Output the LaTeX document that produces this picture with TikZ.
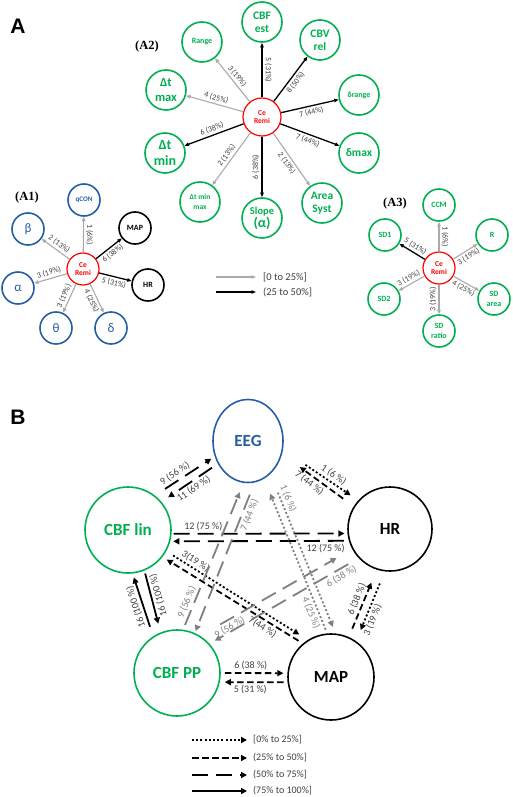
\documentclass[tikz,border=0pt]{standalone}
\usepackage{fontspec}
\setmainfont{Carlito}
\newfontfamily\arialf{Liberation Sans}
\newfontfamily\timesf{Liberation Serif}
\usetikzlibrary{arrows.meta,shapes.geometric}
\definecolor{agreen}{RGB}{0,176,80}
\definecolor{ablue}{RGB}{38,94,165}
\definecolor{lgray}{RGB}{170,170,170}
\definecolor{mgray}{RGB}{128,128,128}
\definecolor{lab}{RGB}{64,64,64}
\newcommand{\fsz}[2]{\fontsize{#1}{#2}\selectfont}
\begin{document}
\begin{tikzpicture}[x=1pt, y=-1pt,
  ce/.style={circle, draw=red, line width=1.2pt, text=red, inner sep=0pt, align=center, font=\bfseries\fsz{7.5}{8.5}},
  gn/.style={circle, draw=agreen, line width=1.6pt, text=agreen, inner sep=0pt, align=center, font=\bfseries\fsz{8}{10}},
  bn/.style={circle, draw=ablue, line width=1.6pt, text=ablue, inner sep=0pt, align=center, font=\bfseries\fsz{8}{10}},
  kn/.style={circle, draw=black, line width=1.6pt, text=black, inner sep=0pt, align=center, font=\bfseries\fsz{8}{10}},
  lo/.style={draw=lgray, line width=1.1pt, -{Triangle[length=4.5pt,width=3.5pt]}},
  hi/.style={draw=black, line width=1.3pt, -{Triangle[length=4.5pt,width=3.5pt]}},
  al/.style={font=\fsz{8}{9}, text=lab, inner sep=2pt},
  big/.style={draw, line width=1.6pt, inner sep=0pt, font=\bfseries\fsz{17}{19}},
  bk/.style={draw=black, line width=1.8pt, -{Triangle[length=6pt,width=6pt]}},
  gr/.style={draw=mgray, line width=1.8pt, -{Triangle[length=6pt,width=6pt]}},
  p25/.style={dash pattern=on 2pt off 2.2pt},
  p50/.style={dash pattern=on 6.5pt off 3.5pt},
  p75/.style={dash pattern=on 16pt off 8pt},
  bl/.style={font=\fsz{10}{12}, text=lab, inner sep=2pt},
  gl/.style={font=\fsz{10}{12}, text=mgray, inner sep=2pt},
  leg/.style={anchor=west, inner sep=0pt, text=lab}
]
\useasboundingbox (0,0) rectangle (512,797);

% panel A
\node[font=\arialf\bfseries\fsz{21}{21}] (pa) at (18,26) {A};
\node[font=\timesf\bfseries\fsz{12.5}{13}] (a2t) at (147,46) {(A2)};
\node[font=\timesf\bfseries\fsz{12.5}{13}] (a1t) at (27,197) {(A1)};
\node[font=\timesf\bfseries\fsz{12.5}{13}] (a3t) at (395,203) {(A3)};

% A2
\node[ce, minimum size=38] (c2) at (262,117) {Ce\\Remi};
\node[gn, minimum size=40, font=\bfseries\fsz{11.5}{13}] (cbf) at (262,22) {CBF\\est};
\node[gn, minimum size=40, font=\bfseries\fsz{11.5}{13}] (cbv) at (320,40) {CBV\\rel};
\node[gn, minimum size=40] (drng) at (359,95) {δrange};
\node[gn, minimum size=40, font=\bfseries\fsz{11.5}{13}] (dmax) at (359,153) {δmax};
\node[gn, minimum size=40, font=\bfseries\fsz{11.5}{13}] (area) at (322,203) {Area\\Syst};
\node[gn, minimum size=40, font=\bfseries\fsz{10.5}{13}] (slp) at (262,218) {Slope\\{\fsz{14}{14}(α)}};
\node[gn, minimum size=40, font=\bfseries\fsz{7.5}{10}] (dtmm) at (200,202) {Δt min\\max};
\node[gn, minimum size=40, font=\bfseries\fsz{14}{16}] (dtmin) at (165,153) {Δt\\min};
\node[gn, minimum size=40, font=\bfseries\fsz{12.5}{15}] (dtmax) at (166,90) {Δt\\max};
\node[gn, minimum size=40] (rng) at (202,42) {Range};
\draw[lo] (c2) -- (rng) node[al, midway, sloped, above] {3 (19\%)};
\draw[hi] (c2) -- (cbf) node[al, midway, rotate=-90, anchor=south] {5 (31\%)};
\draw[hi] (c2) -- (cbv) node[al, midway, sloped, below] {8 (50\%)};
\draw[hi] (c2) -- (drng) node[al, midway, sloped, below] {7 (44\%)};
\draw[hi] (c2) -- (dmax) node[al, midway, sloped, below] {7 (44\%)};
\draw[lo] (c2) -- (area) node[al, midway, sloped, below] {2 (13\%)};
\draw[hi] (c2) -- (slp) node[al, midway, rotate=90, anchor=south] {6 (38\%)};
\draw[lo] (c2) -- (dtmm) node[al, midway, sloped, above] {2 (13\%)};
\draw[hi] (c2) -- (dtmin) node[al, midway, sloped, above] {6 (38\%)};
\draw[lo] (c2) -- (dtmax) node[al, midway, sloped, above] {4 (25\%)};

% A1
\node[ce, minimum size=32] (c1) at (83,269) {Ce\\Remi};
\node[bn, minimum size=32, font=\bfseries\fsz{7}{8}] (qcon) at (84,200) {qCON};
\node[bn, minimum size=32, font=\fsz{13}{13}] (bet) at (28,229) {β};
\node[bn, minimum size=32, font=\fsz{13}{13}] (alp) at (18,288) {α};
\node[bn, minimum size=32, font=\fsz{13}{13}] (the) at (56,328) {θ};
\node[bn, minimum size=32, font=\fsz{13}{13}] (del) at (111,328) {δ};
\node[kn, minimum size=32] (map1) at (135,228) {MAP};
\node[kn, minimum size=32] (hr1) at (148,285) {HR};
\draw[lo] (c1) -- (qcon) node[al, midway, rotate=-90, anchor=south] {1 (6\%)};
\draw[hi] (c1) -- (map1) node[al, midway, sloped, below] {6 (38\%)};
\draw[hi] (c1) -- (hr1) node[al, midway, sloped, below] {5 (31\%)};
\draw[lo] (c1) -- (bet) node[al, midway, sloped, above] {2 (13\%)};
\draw[lo] (c1) -- (alp) node[al, midway, sloped, above] {3 (19\%)};
\draw[lo] (c1) -- (the) node[al, midway, sloped, above] {3 (19\%)};
\draw[lo] (c1) -- (del) node[al, midway, sloped, below] {4 (25\%)};

% A3
\node[ce, minimum size=32] (c3) at (439,268) {Ce\\Remi};
\node[gn, minimum size=32] (ccm) at (439,205) {CCM};
\node[gn, minimum size=32] (sd1) at (385,235) {SD1};
\node[gn, minimum size=32] (rr) at (492,235) {R};
\node[gn, minimum size=32] (sd2) at (384,299) {SD2};
\node[gn, minimum size=32] (sda) at (494,299) {SD\\area};
\node[gn, minimum size=32] (sdr) at (439,331) {SD\\ratio};
\draw[lo] (c3) -- (ccm) node[al, midway, rotate=-90, anchor=south] {1 (6\%)};
\draw[hi] (c3) -- (sd1) node[al, midway, sloped, above] {5 (31\%)};
\draw[lo] (c3) -- (rr) node[al, midway, sloped, below] {3 (19\%)};
\draw[lo] (c3) -- (sd2) node[al, midway, sloped, above] {3 (19\%)};
\draw[lo] (c3) -- (sda) node[al, midway, sloped, below] {4 (25\%)};
\draw[lo] (c3) -- (sdr) node[al, midway, rotate=90, anchor=south] {3 (19\%)};

% legend A
\node[leg, font=\fsz{10.5}{12}] (lg1) at (263,277) {[0 to 25\%]};
\node[leg, font=\fsz{10.5}{12}] (lg2) at (263,292) {(25 to 50\%]};
\coordinate (lg1s) at (216,277);
\coordinate (lg2s) at (216,292);
\draw[lo, shorten >=7pt] (lg1s) -- (lg1.west);
\draw[hi, shorten >=7pt] (lg2s) -- (lg2.west);

% panel B
\node[font=\arialf\bfseries\fsz{21}{21}] (pb) at (18,417) {B};
\node[big, ellipse, draw=ablue, text=ablue, minimum width=70, minimum height=83] (eeg) at (248,441) {EEG};
\node[big, circle, draw=agreen, text=agreen, minimum size=86] (lin) at (128,530) {CBF lin};
\node[big, circle, minimum size=84] (hr) at (390,529) {HR};
\node[big, circle, draw=agreen, text=agreen, minimum size=86] (pp) at (177,673) {CBF PP};
\node[big, circle, minimum size=86] (map) at (331,677) {MAP};

\draw[bk, p75, shorten <=12pt, shorten >=4pt] (lin.52) -- (eeg.205) node[bl, sloped, pos=.4, above] {9 (56 \%)};
\draw[bk, p75, shorten <=7pt, shorten >=8pt] (eeg.217) -- (lin.40) node[bl, sloped, pos=.5, below] {11 (69 \%)};
\draw[bk, p25, shorten <=27pt, shorten >=9pt] (eeg.-14) -- (hr.138) node[bl, sloped, pos=.62, above] {1 (6 \%)};
\draw[bk, p50, shorten <=13pt, shorten >=22pt] (hr.148) -- (eeg.-21) node[bl, sloped, pos=.56, below] {7 (44 \%)};
\draw[bk, p75, shorten <=2pt, shorten >=3pt] (lin.-5) -- (hr.186) node[bl, pos=.18, above] {12 (75 \%)};
\draw[bk, p75, shorten <=5pt, shorten >=3pt] (hr.196) -- (lin.-15) node[bl, pos=.13, below] {12 (75 \%)};
\draw[bk, p25, shorten <=8pt, shorten >=10pt] (lin.-29) -- (map.122) node[bl, sloped, pos=.18, above] {3(19 \%)};
\draw[bk, p50, shorten <=5pt, shorten >=5pt] (map.130) -- (lin.-38) node[bl, sloped, pos=.26, below] {7(44 \%)};
\draw[bk, shorten <=10pt, shorten >=4pt] (pp.123) -- (lin.-84) node[bl, pos=.5, rotate=108, anchor=south] {16 (100 \%)};
\draw[bk, shorten <=3pt, shorten >=9pt] (lin.-68) -- (pp.112) node[bl, pos=.43, rotate=105, anchor=north] {16 (100 \%)};
\draw[gr, p75, shorten <=5pt, shorten >=10pt] (pp.82) -- (eeg.264) node[gl, sloped, pos=.17, above] {9 (56 \%)};
\draw[gr, p75, shorten <=13pt, shorten >=2pt] (eeg.-81) -- (pp.66) node[gl, sloped, pos=.2, below] {7 (44 \%)};
\draw[gr, p75, shorten <=23pt, shorten >=18pt] (pp.58) -- (hr.208) node[gl, sloped, pos=.17, below] {9 (56 \%)};
\draw[gr, p75, shorten <=12pt, shorten >=6pt] (hr.223) -- (pp.42) node[gl, sloped, pos=.14, below] {6 (38 \%)};
\draw[gr, p25, shorten <=20pt, shorten >=7pt] (eeg.-56) -- (map.84) node[gl, sloped, pos=.17, above] {1 (6 \%)};
\draw[gr, p25, shorten <=4pt, shorten >=16pt] (map.95) -- (eeg.-67) node[gl, sloped, pos=.15, below] {4 (25 \%)};
\draw[bk, p50, shorten <=9pt, shorten >=14pt] (map.66) -- (hr.252) node[bl, sloped, pos=.52, above] {6 (38 \%)};
\draw[bk, p25, shorten <=13pt, shorten >=12pt] (hr.263) -- (map.55) node[bl, sloped, pos=.66, below] {3 (19 \%)};
\draw[bk, p50, shorten <=4pt, shorten >=4pt] (pp.0) -- (map.175) node[bl, pos=.45, above] {6 (38 \%)};
\draw[bk, p50, shorten <=4pt, shorten >=5pt] (map.187) -- (pp.-12) node[bl, pos=.55, below] {5 (31 \%)};

% legend B
\node[leg, font=\fsz{10}{12}] (k1) at (253,740) {[0\% to 25\%]};
\node[leg, font=\fsz{10}{12}] (k2) at (253,758) {(25\% to 50\%]};
\node[leg, font=\fsz{10}{12}] (k3) at (253,775) {(50\% to 75\%]};
\node[leg, font=\fsz{10}{12}] (k4) at (253,791) {(75\% to 100\%]};
\coordinate (k1s) at (192,740);
\coordinate (k2s) at (192,758);
\coordinate (k3s) at (192,775);
\coordinate (k4s) at (192,791);
\draw[bk, p25, shorten >=6pt] (k1s) -- (k1.west);
\draw[bk, p50, shorten >=6pt] (k2s) -- (k2.west);
\draw[bk, p75, shorten >=6pt] (k3s) -- (k3.west);
\draw[bk, shorten >=6pt] (k4s) -- (k4.west);
\end{tikzpicture}
\end{document}
